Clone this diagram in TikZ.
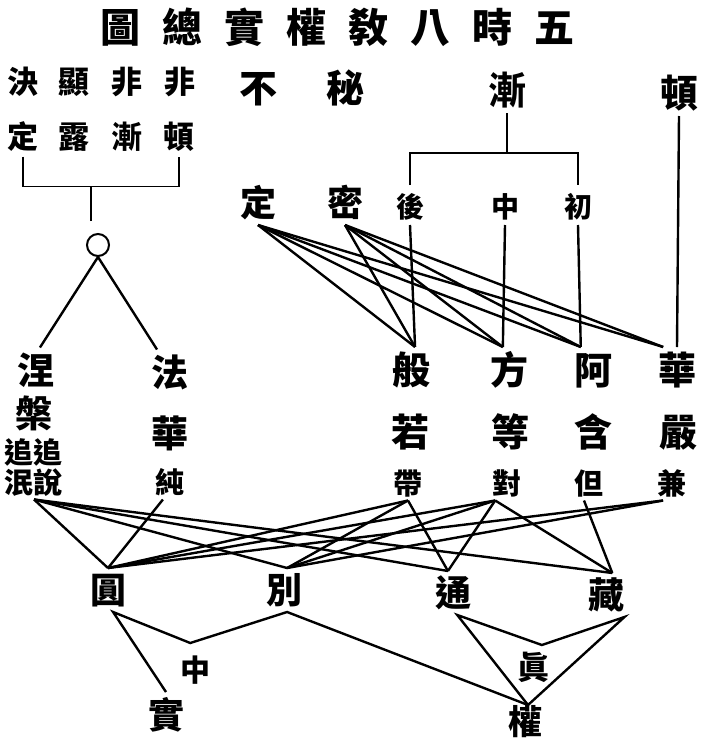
\documentclass[tikz,border=0pt]{standalone}
\usepackage{fontspec}
\usepackage{tikz}
\newfontfamily\cjk{Noto Sans CJK TC}
\tikzset{
  cjk/.style={font=\cjk\bfseries\fontsize{#1pt}{#1pt}\selectfont, text height=0.88*#1pt, text depth=0.12*#1pt, inner sep=0pt, outer sep=4pt},
  ttl/.style={cjk=40},
  bigc/.style={cjk=38},
  botc/.style={cjk=36},
  lblk/.style={cjk=31},
  midc/.style={cjk=28},
  smallc/.style={cjk=29, outer sep=3pt},
  ln/.style={line width=2.4pt},
  thinln/.style={line width=1.6pt}
}
\begin{document}
\begin{tikzpicture}[x=1pt,y=-1pt]
    \useasboundingbox (0,0) rectangle (703,742);
    \foreach \c [count=\i] in {圖,總,實,權,敎,八,時,五}
        \node[ttl] (t\i) at (58+62*\i,27) {\c};

    \node[lblk] (jue) at (23,82) {決};
    \node[lblk] (xian) at (74,82) {顯};
    \node[lblk] (feiA) at (127,82) {非};
    \node[lblk] (feiB) at (180,82) {非};
    \node[lblk] (dingL) at (23,137) {定};
    \node[lblk] (lu) at (74,137) {露};
    \node[lblk] (jianL) at (127,137) {漸};
    \node[lblk] (dunL) at (179,137) {頓};
    \draw[thinln] (dingL.south) -- ++(0,30) -| (dunL.south);
    \node[draw,circle,minimum size=22pt,inner sep=0pt,line width=2pt] (circ) at (98,245) {};
    \draw[thinln] ([xshift=-7pt,yshift=12pt]circ.north) -- ++(0,-34);

    \node[cjk=37] (nie) at (36,370) {涅};
    \node[cjk=37] (pan) at (34,413) {槃};
    \node[smallc] (zhui) at (34,452) {追追};
    \node[smallc] (minshuo) at (34,482) {泯說};
    \node[cjk=37] (fa) at (170,372) {法};
    \node[cjk=37] (huaL) at (170,433) {華};
    \node[smallc] (chun) at (170,482) {純};
    \draw[ln] (nie.80) -- (circ.south) -- (fa.120);

    \node[bigc] (bu) at (258,88) {不};
    \node[bigc] (miA) at (345,88) {秘};
    \node[bigc] (jian) at (507,90) {漸};
    \node[bigc] (dun) at (679,93) {頓};
    \node[cjk=36] (ding) at (258,203) {定};
    \node[cjk=36] (mi) at (345,203) {密};
    \node[midc] (hou) at (410,207) {後};
    \node[midc] (zhong) at (505,207) {中};
    \node[midc] (chu) at (578,207) {初};
    \draw[thinln] (jian.south) -- ++(0,40);
    \draw[thinln] ([yshift=4pt]hou.north) -- ++(0,-32) -| ([yshift=4pt]chu.north);

    \node[bigc] (ban) at (411,370) {般};
    \node[bigc] (fang) at (509,370) {方};
    \node[bigc] (ah) at (593,370) {阿};
    \node[bigc] (huaR) at (677,370) {華};
    \node[bigc] (ruo) at (410,432) {若};
    \node[bigc] (deng) at (510,432) {等};
    \node[bigc] (han) at (593,432) {含};
    \node[bigc] (yan) at (678,432) {嚴};
    \node[smallc] (dai) at (408,483) {帶};
    \node[smallc] (dui) at (507,483) {對};
    \node[smallc] (dan) at (589,483) {但};
    \node[smallc] (jianB) at (672,483) {兼};

    \draw[ln] (hou.south) -- (ban.80);
    \draw[ln] (zhong.south) -- (fang.105);
    \draw[ln] (chu.south) -- (ah.118);
    \draw[ln] (dun.south) -- (huaR.north);
    \foreach \t in {ban.80,fang.105,ah.118,huaR.121} {
        \draw[ln] (ding.south) -- (\t);
        \draw[ln] (mi.south) -- (\t);
    }

    \node[botc] (yuan) at (108,590) {圓};
    \node[botc] (bie) at (284,590) {別};
    \node[botc] (tong) at (453,593) {通};
    \node[botc] (zang) at (606,595) {藏};
    \node[cjk=30,outer sep=12pt] (zhongB) at (195,670) {中};
    \node[cjk=36,outer sep=5pt] (shi) at (166,715) {實};
    \node[cjk=32,outer sep=6pt] (zhen) at (533,667) {眞};
    \node[cjk=34,outer sep=0pt] (quan) at (525,722) {權};

    \foreach \t in {yuan.north,bie.82,tong.103,zang.74}
        \draw[ln] (minshuo.south) -- (\t);
    \draw[ln] (chun.248) -- (yuan.north);
    \foreach \t in {yuan.north,bie.82,tong.103}
        \draw[ln] (dai.south) -- (\t);
    \foreach \t in {yuan.north,bie.82,tong.103,zang.74}
        \draw[ln] (dui.236) -- (\t);
    \draw[ln] (dan.254) -- (zang.74);
    \foreach \t in {yuan.north,bie.82}
        \draw[ln] (jianB.243) -- (\t);

    \draw[ln] (shi.north) -- (yuan.283) -- (zhongB.100) -- (bie.278) -- (quan.80);
    \draw[ln] (quan.80) -- (tong.281) -- (zhen.68) -- (zang.310) -- cycle;
\end{tikzpicture}
\end{document}
